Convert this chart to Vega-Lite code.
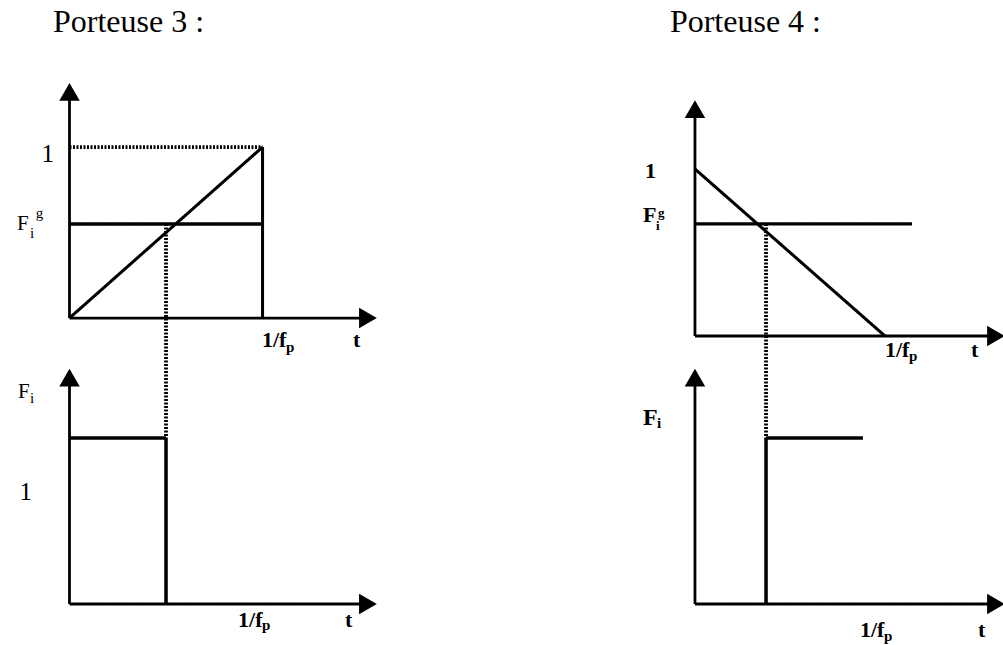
{
  "$schema": "https://vega.github.io/schema/vega-lite/v6.json",
  "padding": 0,
  "autosize": {"type": "pad"},
  "background": "white",
  "config": {"view": {"stroke": null}},
  "spacing": 0,
  "columns": 2,
  "bounds": "flush",
  "datasets": {
    "segments": [
      {"panel": "p3h", "kind": "axe", "t": 0, "F": 0, "t2": 0, "F2": 1.322},
      {"panel": "p3h", "kind": "axe", "t": 0, "F": 0, "t2": 1.546, "F2": 0},
      {"panel": "p3h", "kind": "courbe", "t": 0, "F": 0, "t2": 1, "F2": 1},
      {"panel": "p3h", "kind": "courbe", "t": 1, "F": 0, "t2": 1, "F2": 1},
      {"panel": "p3h", "kind": "seuil", "t": 0, "F": 0.55, "t2": 1, "F2": 0.55},
      {"panel": "p3h", "kind": "repere", "t": 0, "F": 1, "t2": 1, "F2": 1},
      {"panel": "p3h", "kind": "repere", "t": 0.5, "F": 0.55, "t2": 0.5, "F2": -0.146},
      {"panel": "p3b", "kind": "axe", "t": 0, "F": 0, "t2": 0, "F2": 1.364},
      {"panel": "p3b", "kind": "axe", "t": 0, "F": 0, "t2": 1.546, "F2": 0},
      {"panel": "p3b", "kind": "sortie", "t": 0, "F": 1, "t2": 0.5, "F2": 1},
      {"panel": "p3b", "kind": "sortie", "t": 0.5, "F": 1, "t2": 0.5, "F2": 0},
      {"panel": "p3b", "kind": "repere", "t": 0.5, "F": 1.572, "t2": 0.5, "F2": 1},
      {"panel": "p4h", "kind": "axe", "t": 0, "F": 0, "t2": 0, "F2": 1.359},
      {"panel": "p4h", "kind": "axe", "t": 0, "F": 0, "t2": 1.584, "F2": 0},
      {"panel": "p4h", "kind": "courbe", "t": 0, "F": 1, "t2": 1, "F2": 0},
      {"panel": "p4h", "kind": "seuil", "t": 0, "F": 0.671, "t2": 1.142, "F2": 0.671},
      {"panel": "p4h", "kind": "repere", "t": 0.374, "F": 0.671, "t2": 0.374, "F2": -0.042},
      {"panel": "p4b", "kind": "axe", "t": 0, "F": 0, "t2": 0, "F2": 1.364},
      {"panel": "p4b", "kind": "axe", "t": 0, "F": 0, "t2": 1.584, "F2": 0},
      {"panel": "p4b", "kind": "sortie", "t": 0.374, "F": 1, "t2": 0.884, "F2": 1},
      {"panel": "p4b", "kind": "sortie", "t": 0.374, "F": 1, "t2": 0.374, "F2": 0},
      {"panel": "p4b", "kind": "repere", "t": 0.374, "F": 1.572, "t2": 0.374, "F2": 1}
    ],
    "fleches": [
      {"panel": "p3h", "sens": "haut", "t": 0, "F": 1.322},
      {"panel": "p3h", "sens": "droite", "t": 1.546, "F": 0},
      {"panel": "p3b", "sens": "haut", "t": 0, "F": 1.364},
      {"panel": "p3b", "sens": "droite", "t": 1.546, "F": 0},
      {"panel": "p4h", "sens": "haut", "t": 0, "F": 1.359},
      {"panel": "p4h", "sens": "droite", "t": 1.584, "F": 0},
      {"panel": "p4b", "sens": "haut", "t": 0, "F": 1.364},
      {"panel": "p4b", "sens": "droite", "t": 1.584, "F": 0}
    ],
    "textes": [
      {"panel": "p3h", "cat": "titre", "text": "Porteuse 3 :", "t": -0.0855, "F": 1.673},
      {"panel": "p3h", "cat": "valeur", "text": "1", "t": -0.145, "F": 0.912},
      {"panel": "p3h", "cat": "axey", "text": "F", "t": -0.272, "F": 0.515},
      {"panel": "p3h", "cat": "indice", "text": "i", "t": -0.205, "F": 0.468},
      {"panel": "p3h", "cat": "indice", "text": "g", "t": -0.175, "F": 0.585},
      {"panel": "p3h", "cat": "axex", "text": "1/f", "t": 0.997, "F": -0.17},
      {"panel": "p3h", "cat": "indicex", "text": "p", "t": 1.121, "F": -0.199},
      {"panel": "p3h", "cat": "axex", "text": "t", "t": 1.469, "F": -0.17},
      {"panel": "p3b", "cat": "axey", "text": "F", "t": -0.267, "F": 1.241},
      {"panel": "p3b", "cat": "indice", "text": "i", "t": -0.205, "F": 1.211},
      {"panel": "p3b", "cat": "valeur", "text": "1", "t": -0.259, "F": 0.627},
      {"panel": "p3b", "cat": "axex", "text": "1/f", "t": 0.873, "F": -0.139},
      {"panel": "p3b", "cat": "indicex", "text": "p", "t": 0.997, "F": -0.157},
      {"panel": "p3b", "cat": "axex", "text": "t", "t": 1.427, "F": -0.139},
      {"panel": "p4h", "cat": "titre", "text": "Porteuse 4 :", "t": -0.132, "F": 1.82},
      {"panel": "p4h", "cat": "valeur", "text": "1", "t": -0.263, "F": 0.946},
      {"panel": "p4h", "cat": "axey", "text": "F", "t": -0.274, "F": 0.683},
      {"panel": "p4h", "cat": "indice", "text": "i", "t": -0.205, "F": 0.635},
      {"panel": "p4h", "cat": "indice", "text": "g", "t": -0.195, "F": 0.713},
      {"panel": "p4h", "cat": "axex", "text": "1/f", "t": 1.0, "F": -0.126},
      {"panel": "p4h", "cat": "indicex", "text": "p", "t": 1.126, "F": -0.15},
      {"panel": "p4h", "cat": "axex", "text": "t", "t": 1.453, "F": -0.126},
      {"panel": "p4b", "cat": "axey", "text": "F", "t": -0.274, "F": 1.078},
      {"panel": "p4b", "cat": "indice", "text": "i", "t": -0.2, "F": 1.06},
      {"panel": "p4b", "cat": "axex", "text": "1/f", "t": 0.868, "F": -0.199},
      {"panel": "p4b", "cat": "indicex", "text": "p", "t": 0.995, "F": -0.223},
      {"panel": "p4b", "cat": "axex", "text": "t", "t": 1.489, "F": -0.199}
    ]
  },
  "concat": [
    {
      "width": 500, "height": 343,
      "encoding": {
        "x": {"field": "t", "type": "quantitative", "scale": {"domain": [-0.36, 2.23], "nice": false, "zero": false}, "axis": null},
        "y": {"field": "F", "type": "quantitative", "scale": {"domain": [-0.146, 1.86], "nice": false, "zero": false}, "axis": null}
      },
      "layer": [
        {
          "data": {"name": "segments"}, "transform": [{"filter": "datum.panel === 'p3h'"}],
          "mark": {"type": "rule", "color": "black"},
          "encoding": {
            "x2": {"field": "t2"}, "y2": {"field": "F2"},
            "strokeWidth": {"field": "kind", "type": "nominal", "scale": {"domain": ["axe", "courbe", "seuil", "sortie", "repere"], "range": [2.8, 3.8, 1.5, 2.5, 1.4]}, "legend": null},
            "strokeDash": {"field": "kind", "type": "nominal", "scale": {"domain": ["axe", "courbe", "seuil", "sortie", "repere"], "range": [[1, 0], [1, 0], [1, 0], [1, 0], [2, 1.5]]}, "legend": null}
          }
        },
        {
          "data": {"name": "fleches"}, "transform": [{"filter": "datum.panel === 'p3h'"}],
          "mark": {"type": "point", "filled": true, "color": "black", "opacity": 1, "size": 420},
          "encoding": {"shape": {"field": "sens", "type": "nominal", "scale": {"domain": ["haut", "droite"], "range": ["triangle-up", "triangle-right"]}, "legend": null}}
        },
        {
          "data": {"name": "textes"}, "transform": [{"filter": "datum.panel === 'p3h' && datum.cat === 'titre'"}],
          "mark": {"type": "text", "align": "left", "baseline": "alphabetic", "font": "Liberation Serif", "fontSize": 32, "color": "black"},
          "encoding": {"text": {"field": "text"}}
        },
        {
          "data": {"name": "textes"}, "transform": [{"filter": "datum.panel === 'p3h' && datum.cat === 'valeur'"}],
          "mark": {"type": "text", "align": "left", "baseline": "alphabetic", "font": "Liberation Serif", "fontSize": 25, "color": "black"},
          "encoding": {"text": {"field": "text"}}
        },
        {
          "data": {"name": "textes"}, "transform": [{"filter": "datum.panel === 'p3h' && datum.cat === 'axey'"}],
          "mark": {"type": "text", "align": "left", "baseline": "alphabetic", "font": "Liberation Serif", "fontSize": 21, "color": "black"},
          "encoding": {"text": {"field": "text"}}
        },
        {
          "data": {"name": "textes"}, "transform": [{"filter": "datum.panel === 'p3h' && datum.cat === 'indice'"}],
          "mark": {"type": "text", "align": "left", "baseline": "alphabetic", "font": "Liberation Serif", "fontSize": 15, "color": "black"},
          "encoding": {"text": {"field": "text"}}
        },
        {
          "data": {"name": "textes"}, "transform": [{"filter": "datum.panel === 'p3h' && datum.cat === 'axex'"}],
          "mark": {"type": "text", "align": "left", "baseline": "alphabetic", "font": "Liberation Serif", "fontSize": 22, "fontWeight": "bold", "color": "black"},
          "encoding": {"text": {"field": "text"}}
        },
        {
          "data": {"name": "textes"}, "transform": [{"filter": "datum.panel === 'p3h' && datum.cat === 'indicex'"}],
          "mark": {"type": "text", "align": "left", "baseline": "alphabetic", "font": "Liberation Serif", "fontSize": 15, "fontWeight": "bold", "color": "black"},
          "encoding": {"text": {"field": "text"}}
        }
      ]
    },
    {
      "width": 503, "height": 343,
      "encoding": {
        "x": {"field": "t", "type": "quantitative", "scale": {"domain": [-1.026, 1.621], "nice": false, "zero": false}, "axis": null},
        "y": {"field": "F", "type": "quantitative", "scale": {"domain": [-0.042, 2.012], "nice": false, "zero": false}, "axis": null}
      },
      "layer": [
        {
          "data": {"name": "segments"}, "transform": [{"filter": "datum.panel === 'p4h'"}],
          "mark": {"type": "rule", "color": "black"},
          "encoding": {
            "x2": {"field": "t2"}, "y2": {"field": "F2"},
            "strokeWidth": {"field": "kind", "type": "nominal", "scale": {"domain": ["axe", "courbe", "seuil", "sortie", "repere"], "range": [2.8, 3.8, 1.5, 2.5, 1.4]}, "legend": null},
            "strokeDash": {"field": "kind", "type": "nominal", "scale": {"domain": ["axe", "courbe", "seuil", "sortie", "repere"], "range": [[1, 0], [1, 0], [1, 0], [1, 0], [2, 1.5]]}, "legend": null}
          }
        },
        {
          "data": {"name": "fleches"}, "transform": [{"filter": "datum.panel === 'p4h'"}],
          "mark": {"type": "point", "filled": true, "color": "black", "opacity": 1, "size": 420},
          "encoding": {"shape": {"field": "sens", "type": "nominal", "scale": {"domain": ["haut", "droite"], "range": ["triangle-up", "triangle-right"]}, "legend": null}}
        },
        {
          "data": {"name": "textes"}, "transform": [{"filter": "datum.panel === 'p4h' && datum.cat === 'titre'"}],
          "mark": {"type": "text", "align": "left", "baseline": "alphabetic", "font": "Liberation Serif", "fontSize": 32, "color": "black"},
          "encoding": {"text": {"field": "text"}}
        },
        {
          "data": {"name": "textes"}, "transform": [{"filter": "datum.panel === 'p4h' && (datum.cat === 'axey' || datum.cat === 'valeur')"}],
          "mark": {"type": "text", "align": "left", "baseline": "alphabetic", "font": "Liberation Serif", "fontSize": 22, "fontWeight": "bold", "color": "black"},
          "encoding": {"text": {"field": "text"}}
        },
        {
          "data": {"name": "textes"}, "transform": [{"filter": "datum.panel === 'p4h' && datum.cat === 'indice'"}],
          "mark": {"type": "text", "align": "left", "baseline": "alphabetic", "font": "Liberation Serif", "fontSize": 13, "fontWeight": "bold", "color": "black"},
          "encoding": {"text": {"field": "text"}}
        },
        {
          "data": {"name": "textes"}, "transform": [{"filter": "datum.panel === 'p4h' && datum.cat === 'axex'"}],
          "mark": {"type": "text", "align": "left", "baseline": "alphabetic", "font": "Liberation Serif", "fontSize": 22, "fontWeight": "bold", "color": "black"},
          "encoding": {"text": {"field": "text"}}
        },
        {
          "data": {"name": "textes"}, "transform": [{"filter": "datum.panel === 'p4h' && datum.cat === 'indicex'"}],
          "mark": {"type": "text", "align": "left", "baseline": "alphabetic", "font": "Liberation Serif", "fontSize": 15, "fontWeight": "bold", "color": "black"},
          "encoding": {"text": {"field": "text"}}
        }
      ]
    },
    {
      "width": 500, "height": 302,
      "encoding": {
        "x": {"field": "t", "type": "quantitative", "scale": {"domain": [-0.36, 2.23], "nice": false, "zero": false}, "axis": null},
        "y": {"field": "F", "type": "quantitative", "scale": {"domain": [-0.247, 1.572], "nice": false, "zero": false}, "axis": null}
      },
      "layer": [
        {
          "data": {"name": "segments"}, "transform": [{"filter": "datum.panel === 'p3b'"}],
          "mark": {"type": "rule", "color": "black"},
          "encoding": {
            "x2": {"field": "t2"}, "y2": {"field": "F2"},
            "strokeWidth": {"field": "kind", "type": "nominal", "scale": {"domain": ["axe", "courbe", "seuil", "sortie", "repere"], "range": [2.8, 3.8, 1.5, 2.5, 1.4]}, "legend": null},
            "strokeDash": {"field": "kind", "type": "nominal", "scale": {"domain": ["axe", "courbe", "seuil", "sortie", "repere"], "range": [[1, 0], [1, 0], [1, 0], [1, 0], [2, 1.5]]}, "legend": null}
          }
        },
        {
          "data": {"name": "fleches"}, "transform": [{"filter": "datum.panel === 'p3b'"}],
          "mark": {"type": "point", "filled": true, "color": "black", "opacity": 1, "size": 420},
          "encoding": {"shape": {"field": "sens", "type": "nominal", "scale": {"domain": ["haut", "droite"], "range": ["triangle-up", "triangle-right"]}, "legend": null}}
        },
        {
          "data": {"name": "textes"}, "transform": [{"filter": "datum.panel === 'p3b' && datum.cat === 'valeur'"}],
          "mark": {"type": "text", "align": "left", "baseline": "alphabetic", "font": "Liberation Serif", "fontSize": 25, "color": "black"},
          "encoding": {"text": {"field": "text"}}
        },
        {
          "data": {"name": "textes"}, "transform": [{"filter": "datum.panel === 'p3b' && datum.cat === 'axey'"}],
          "mark": {"type": "text", "align": "left", "baseline": "alphabetic", "font": "Liberation Serif", "fontSize": 21, "color": "black"},
          "encoding": {"text": {"field": "text"}}
        },
        {
          "data": {"name": "textes"}, "transform": [{"filter": "datum.panel === 'p3b' && datum.cat === 'indice'"}],
          "mark": {"type": "text", "align": "left", "baseline": "alphabetic", "font": "Liberation Serif", "fontSize": 15, "color": "black"},
          "encoding": {"text": {"field": "text"}}
        },
        {
          "data": {"name": "textes"}, "transform": [{"filter": "datum.panel === 'p3b' && datum.cat === 'axex'"}],
          "mark": {"type": "text", "align": "left", "baseline": "alphabetic", "font": "Liberation Serif", "fontSize": 22, "fontWeight": "bold", "color": "black"},
          "encoding": {"text": {"field": "text"}}
        },
        {
          "data": {"name": "textes"}, "transform": [{"filter": "datum.panel === 'p3b' && datum.cat === 'indicex'"}],
          "mark": {"type": "text", "align": "left", "baseline": "alphabetic", "font": "Liberation Serif", "fontSize": 15, "fontWeight": "bold", "color": "black"},
          "encoding": {"text": {"field": "text"}}
        }
      ]
    },
    {
      "width": 503, "height": 302,
      "encoding": {
        "x": {"field": "t", "type": "quantitative", "scale": {"domain": [-1.026, 1.621], "nice": false, "zero": false}, "axis": null},
        "y": {"field": "F", "type": "quantitative", "scale": {"domain": [-0.247, 1.572], "nice": false, "zero": false}, "axis": null}
      },
      "layer": [
        {
          "data": {"name": "segments"}, "transform": [{"filter": "datum.panel === 'p4b'"}],
          "mark": {"type": "rule", "color": "black"},
          "encoding": {
            "x2": {"field": "t2"}, "y2": {"field": "F2"},
            "strokeWidth": {"field": "kind", "type": "nominal", "scale": {"domain": ["axe", "courbe", "seuil", "sortie", "repere"], "range": [2.8, 3.8, 1.5, 2.5, 1.4]}, "legend": null},
            "strokeDash": {"field": "kind", "type": "nominal", "scale": {"domain": ["axe", "courbe", "seuil", "sortie", "repere"], "range": [[1, 0], [1, 0], [1, 0], [1, 0], [2, 1.5]]}, "legend": null}
          }
        },
        {
          "data": {"name": "fleches"}, "transform": [{"filter": "datum.panel === 'p4b'"}],
          "mark": {"type": "point", "filled": true, "color": "black", "opacity": 1, "size": 420},
          "encoding": {"shape": {"field": "sens", "type": "nominal", "scale": {"domain": ["haut", "droite"], "range": ["triangle-up", "triangle-right"]}, "legend": null}}
        },
        {
          "data": {"name": "textes"}, "transform": [{"filter": "datum.panel === 'p4b' && datum.cat === 'axey'"}],
          "mark": {"type": "text", "align": "left", "baseline": "alphabetic", "font": "Liberation Serif", "fontSize": 24, "fontWeight": "bold", "color": "black"},
          "encoding": {"text": {"field": "text"}}
        },
        {
          "data": {"name": "textes"}, "transform": [{"filter": "datum.panel === 'p4b' && datum.cat === 'indice'"}],
          "mark": {"type": "text", "align": "left", "baseline": "alphabetic", "font": "Liberation Serif", "fontSize": 15, "fontWeight": "bold", "color": "black"},
          "encoding": {"text": {"field": "text"}}
        },
        {
          "data": {"name": "textes"}, "transform": [{"filter": "datum.panel === 'p4b' && datum.cat === 'axex'"}],
          "mark": {"type": "text", "align": "left", "baseline": "alphabetic", "font": "Liberation Serif", "fontSize": 22, "fontWeight": "bold", "color": "black"},
          "encoding": {"text": {"field": "text"}}
        },
        {
          "data": {"name": "textes"}, "transform": [{"filter": "datum.panel === 'p4b' && datum.cat === 'indicex'"}],
          "mark": {"type": "text", "align": "left", "baseline": "alphabetic", "font": "Liberation Serif", "fontSize": 15, "fontWeight": "bold", "color": "black"},
          "encoding": {"text": {"field": "text"}}
        }
      ]
    }
  ]
}
